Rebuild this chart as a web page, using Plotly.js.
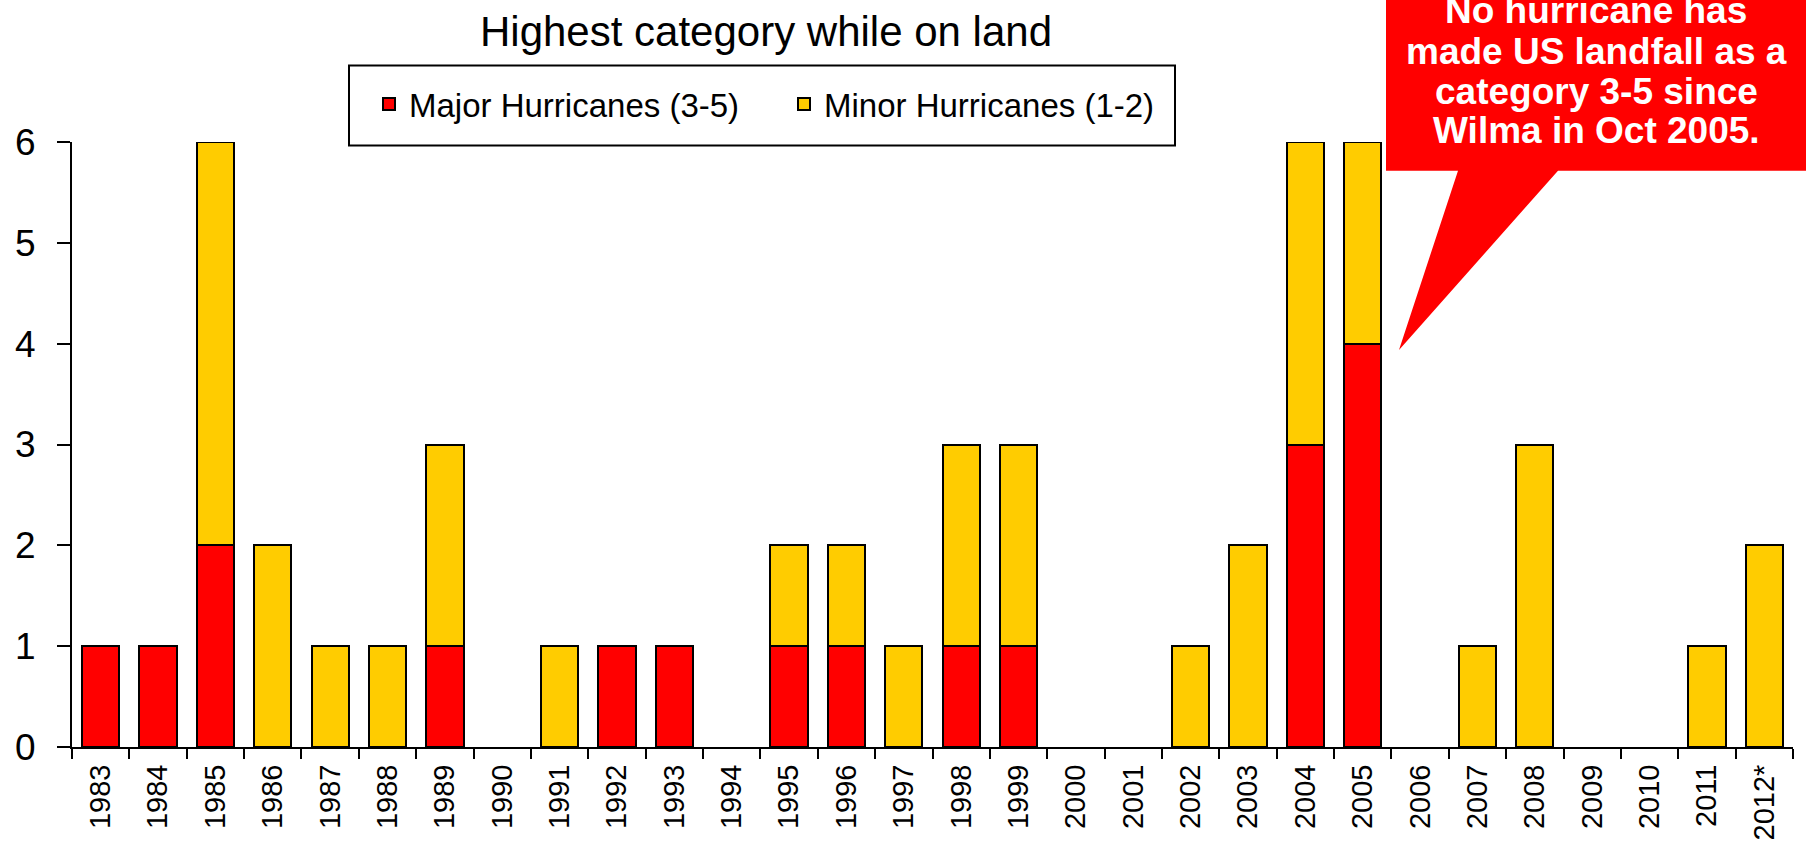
<!DOCTYPE html>
<html>
<head>
<meta charset="utf-8">
<script src="https://cdn.plot.ly/plotly-3.0.1.min.js"></script>
<style>
  html, body { margin: 0; padding: 0; background: #fff; }
  #chart { width: 1806px; height: 845px; }
</style>
</head>
<body>
<div id="chart"></div>
<script>
// US landfalling hurricanes per year, split by highest category while on land
const years = ['1983','1984','1985','1986','1987','1988','1989','1990','1991','1992',
               '1993','1994','1995','1996','1997','1998','1999','2000','2001','2002',
               '2003','2004','2005','2006','2007','2008','2009','2010','2011','2012*'];
const majorHurricanes = [1,1,2,0,0,0,1,0,0,1, 1,0,1,1,0,1,1,0,0,0, 0,3,4,0,0,0,0,0,0,0];
const minorHurricanes = [0,0,4,2,1,1,2,0,1,0, 0,0,1,1,1,2,2,0,0,1, 2,3,2,0,1,3,0,0,1,2];
const seriesNames = ['Major Hurricanes (3-5)', 'Minor Hurricanes (1-2)'];
const seriesColors = ['#FF0000', '#FFCC00'];
const yTicks = [0,1,2,3,4,5,6];
const chartTitle = 'Highest category while on land';
const calloutLines = ['No hurricane has', 'made US landfall as a', 'category 3-5 since', 'Wilma in Oct 2005.'];

// page geometry (pixels)
const FW = 1806, FH = 845;
const M = { l: 72, r: 13, t: 142, b: 98 };
const PW = FW - M.l - M.r, PH = FH - M.t - M.b;
const px2x = px => (px - M.l) / PW;
const px2y = py => (M.t + PH - py) / PH;

// empty years get no bar segment at all
const nz = v => (v === 0 ? null : v);

const barLine = { color: '#000', width: 2 };
const traces = [
  { type: 'bar', x: years, y: majorHurricanes.map(nz), name: seriesNames[0],
    marker: { color: seriesColors[0], line: barLine } },
  { type: 'bar', x: years, y: minorHurricanes.map(nz), name: seriesNames[1],
    marker: { color: seriesColors[1], line: barLine } }
];

// speech-bubble callout: box plus pointer aimed at the 2005 bar
const bubble = [[1386,-6],[1812,-6],[1812,170.7],[1558,170.7],[1399,350],[1458,170.7],[1386,170.7]];
const bubblePath = 'M' + bubble.map(p => px2x(p[0]).toFixed(5) + ',' + px2y(p[1]).toFixed(5)).join('L') + 'Z';

const shapes = [
  { type: 'path', xref: 'paper', yref: 'paper', path: bubblePath,
    fillcolor: '#FF0000', line: { width: 0 }, layer: 'above' },
  // legend frame
  { type: 'rect', xref: 'paper', yref: 'paper',
    x0: px2x(349), x1: px2x(1175), y0: px2y(145.5), y1: px2y(65.5),
    line: { color: '#000', width: 2 }, fillcolor: 'rgba(0,0,0,0)', layer: 'above' }
];

const lineCenters = [10.5, 51, 91, 130.5];
const annotations = calloutLines.map((t, i) => ({
  text: '<b>' + t + '</b>', xref: 'paper', yref: 'paper',
  x: px2x(1596), y: px2y(lineCenters[i]), xanchor: 'center', yanchor: 'middle',
  showarrow: false,
  font: { family: 'Liberation Sans, Arial, sans-serif', size: 37, color: '#fff' }
}));

const layout = {
  width: FW, height: FH,
  margin: M,
  paper_bgcolor: '#fff', plot_bgcolor: '#fff',
  barmode: 'stack', bargap: 0.35,
  font: { family: 'Liberation Sans, Arial, sans-serif', color: '#000' },
  title: { text: chartTitle, x: 766 / FW, xref: 'container', xanchor: 'center',
           y: 1 - 31 / FH, yref: 'container', yanchor: 'middle',
           font: { size: 42, color: '#000' } },
  showlegend: true,
  legend: { orientation: 'h', xref: 'container', yref: 'container',
            x: 369 / FW, xanchor: 'left', y: 1 - 76 / FH, yanchor: 'top',
            bgcolor: 'rgba(0,0,0,0)', borderwidth: 0,
            entrywidth: 370, entrywidthmode: 'pixels', traceorder: 'normal',
            font: { family: 'Liberation Sans, Arial, sans-serif', size: 33, color: '#000' } },
  xaxis: { type: 'category', tickson: 'boundaries', ticks: 'outside', ticklen: 10,
           tickwidth: 2, tickcolor: '#000', showline: true, linewidth: 2, linecolor: '#000',
           tickangle: -90, tickfont: { size: 29 }, showgrid: false, zeroline: false,
           ticklabelstandoff: 4, fixedrange: true },
  yaxis: { range: [0, 6], tickvals: yTicks, ticks: 'outside', ticklen: 13, tickwidth: 2,
           tickcolor: '#000', showline: true, linewidth: 2, linecolor: '#000',
           tickfont: { size: 37 }, showgrid: false, zeroline: false,
           ticklabelstandoff: 14, fixedrange: true },
  shapes: shapes,
  annotations: annotations
};

Plotly.newPlot('chart', traces, layout, { displayModeBar: false, staticPlot: true });
</script>
</body>
</html>
